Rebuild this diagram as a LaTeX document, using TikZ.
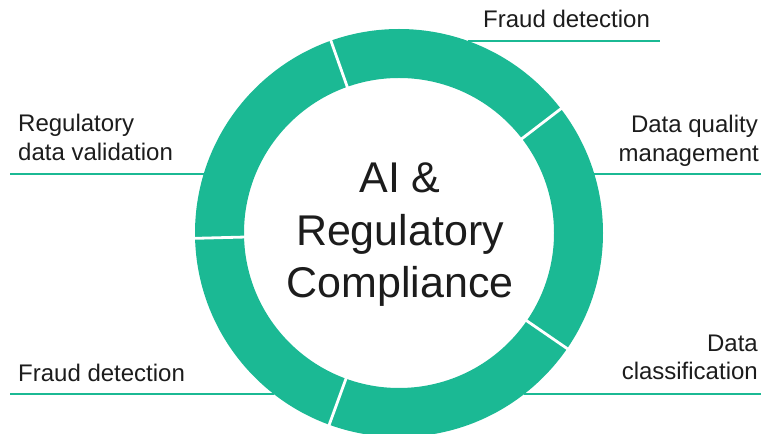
\documentclass[tikz,border=0pt]{standalone}
\usepackage{fontspec}
\setmainfont{Liberation Sans}
\definecolor{ringteal}{RGB}{27,185,148}
\definecolor{inkdark}{RGB}{28,28,28}
\tikzset{
  ringfill/.style={fill=ringteal, even odd rule},
  divider/.style={draw=white, line width=2.8pt},
  leader/.style={draw=ringteal, line width=2pt},
  lbl/.style={font=\fontsize{24}{29}\selectfont, text=inkdark, inner sep=0pt},
  hub/.style={font=\fontsize{43}{52}\selectfont, text=inkdark, inner sep=0pt, anchor=base},
}
\begin{document}
\begin{tikzpicture}[x=1pt,y=1pt]
\useasboundingbox (0,0) rectangle (761,434);
\clip (0,0) rectangle (761,434);

% ring centre
\coordinate (c) at (399,201);

% leader lines (ends on the outer rim of the ring)
\coordinate (t1) at (468,393);   \coordinate (t2) at (660,393);
\coordinate (l1) at (10,260);    \coordinate (l2) at (204,260);
\coordinate (r1) at (594,260);   \coordinate (r2) at (761,260);
\coordinate (bl1) at (10,40);    \coordinate (bl2) at (274,40);
\coordinate (br1) at (524,40);   \coordinate (br2) at (761,40);
\draw[leader] (t1) -- (t2);
\draw[leader] (l1) -- (l2);
\draw[leader] (r1) -- (r2);
\draw[leader] (bl1) -- (bl2);
\draw[leader] (br1) -- (br2);

% the ring
\fill[ringfill] (c) circle[radius=204pt] (c) circle[radius=155pt];

% white dividers between the five segments
\foreach \a in {181.5,109.5,37.5,-34.5,-110}
  \draw[divider] ([shift={(\a:150pt)}]c) -- ([shift={(\a:210pt)}]c);

% centre title
\node[hub] (h1) at (400,241) {AI \&};
\node[hub] (h2) at (400,188) {Regulatory};
\node[hub] (h3) at (400,136) {Compliance};

% labels
\node[lbl, anchor=base west] (fdTop) at (483,406) {Fraud detection};
\node[lbl, anchor=base west] (rdv1) at (18,302) {Regulatory};
\node[lbl, anchor=base west] (rdv2) at (18,273) {data validation};
\node[lbl, anchor=base east] (dqm1) at (758,301) {Data quality};
\node[lbl, anchor=base east] (dqm2) at (759,272) {management};
\node[lbl, anchor=base west] (fdBot) at (18,52) {Fraud detection};
\node[lbl, anchor=base east] (dc1) at (758,82) {Data};
\node[lbl, anchor=base east] (dc2) at (758,54) {classification};
\end{tikzpicture}
\end{document}
